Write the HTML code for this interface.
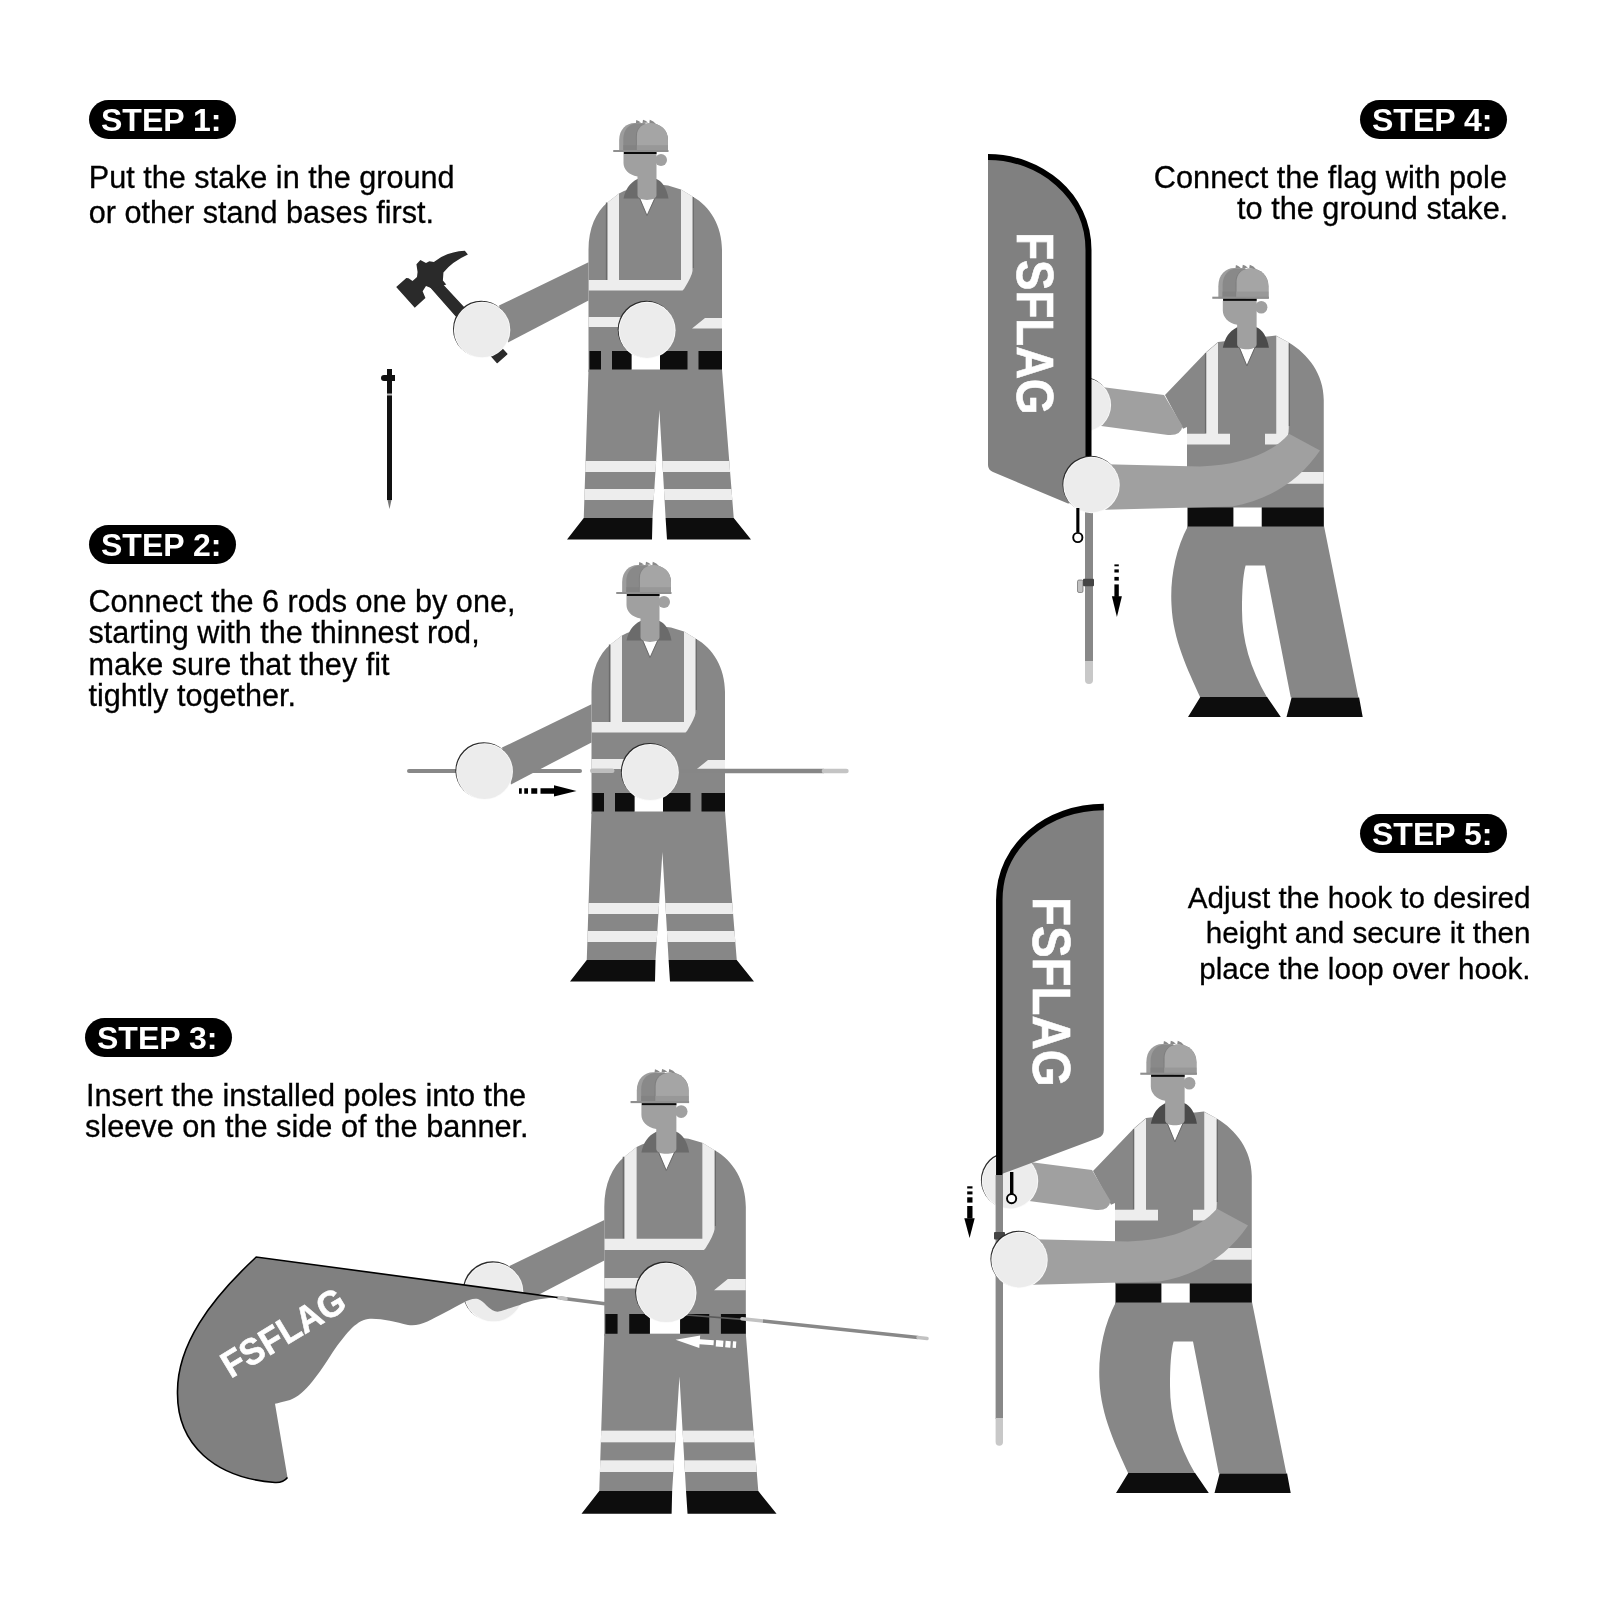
<!DOCTYPE html>
<html><head><meta charset="utf-8">
<style>
html,body{margin:0;padding:0;background:#fff;width:1600px;height:1600px;overflow:hidden}
svg{display:block;filter:grayscale(1)}
.t{font-family:"Liberation Sans",sans-serif;fill:#000;stroke:#000;stroke-width:0.3px}
.lb{font-family:"Liberation Sans",sans-serif;font-weight:bold;fill:#fff;font-size:32px}
.fl{font-family:"Liberation Sans",sans-serif;font-weight:bold;fill:#fff;stroke:#fff;stroke-width:0.6px}
</style></head>
<body>
<svg width="1600" height="1600" viewBox="0 0 1600 1600">
<defs>
  <!-- HEAD: local origin = top-left of face (below black band) -->
  <g id="head">
    <path d="M0,44.5 C2,35 6,29 14,25 H33 C38,27 43,33 45,44.5 Z" style="fill:var(--collar,#6b6b6b)"/>
    <path d="M16.5,44.5 H31 L23.5,61.5 Z" fill="#fff"/>
    <path d="M16.3,44.5 L23.5,61.5 L31.2,44.5" fill="none" stroke="#5a5a5a" stroke-width="0.8"/>
    <circle cx="37.5" cy="6" r="6" fill="#a0a0a0"/>
    <path d="M0,0 H33 V41 C33,47.5 14,47.5 14,41 V22.5 C5,21 0,15 0,9 Z" fill="#a0a0a0"/>
    <!-- helmet -->
    <path d="M12.3,-30.5 L12.8,-34 Q15,-33.5 17.5,-31.5 Z M19,-31 L19.5,-34.2 Q22,-33.5 24.5,-31.5 Z M25.8,-31.3 L26.3,-34.2 Q30,-33.2 33,-29.5 Z" fill="#8a8a8a"/>
    <path d="M-4.35,-2.5 V-14 C-4.35,-25 3,-31 11,-31.1 H22 V-2.5 Z" fill="#9d9d9d"/>
    <path d="M-0.2,-2.5 V-15 C-0.2,-24 5,-29.6 12,-30.5 H22 V-2.5 Z" fill="#898989"/>
    <rect x="-0.2" y="-8.8" width="14" height="6.3" fill="#838383"/>
    <path d="M12.4,-2.5 V-18 C12.4,-26 18.5,-30.8 26.5,-30.8 C37,-30.8 44.5,-24 44.5,-14 V-2.5 Z" fill="#7f7f7f"/>
    <path d="M13.4,-2.5 V-18 C13.4,-26 19,-30.7 27,-30.7 C37,-30.7 44.5,-24 44.5,-14 V-2.5 Z" fill="#a5a5a5"/>
    <rect x="13.4" y="-8.8" width="31.1" height="6.3" fill="#989898"/>
    <rect x="-10.25" y="-4" width="55.25" height="2" fill="#8f8f8f"/>
    <rect x="0.25" y="-2" width="32.85" height="2" fill="#0a0a0a"/>
  </g>

  <!-- STANDING WORKER body (worker 1 absolute coords) -->
  <clipPath id="legclip"><path d="M588.5,369.5 L583.75,518 H652.5 L659.4,410 L665.6,518 H733.75 L722,369.5 Z"/></clipPath>
  <g id="sbody">
    <path d="M588.5,372 V250 C588.5,228 596,212 607.5,202.5 L619,193.5 L624,191 L646,183 L668,185.5 L681,189.5 L692.5,196.5 C710,206 722,226 722,250 V372 Z" fill="#878787"/>
    <path d="M588.5,369.5 L583.75,518 H652.5 L659.4,410 L665.6,518 H733.75 L722,369.5 Z" fill="#878787"/>
    <g clip-path="url(#legclip)" fill="#ededed">
      <rect x="570" y="461" width="180" height="11"/>
      <rect x="570" y="489" width="180" height="11"/>
    </g>
    <path d="M583.75,518 H652.5 L652,539.4 H567 Z M665.6,518 H733.75 L751,539.4 H667 Z" fill="#0d0d0d"/>
    <!-- straps -->
    <path d="M607.5,202.5 L619,193.5 V281 H607.5 Z" fill="#ededed"/>
    <path d="M606.5,202.5 V280 M693.2,197 V268" stroke="#6a6a6a" stroke-width="1.3" fill="none"/>
    <path d="M681,189.5 L692.5,196.5 V271 Q692,276 684,289 L682.5,290.5 H588.5 V280 H681 Z" fill="#ededed"/>
    <path d="M588.5,317 H650 V327 H588.5 Z M705,318 H722 V328.5 H692 Z" fill="#ededed"/>
    <!-- belt -->
    <rect x="631.5" y="351" width="28.5" height="18.5" fill="#fff"/>
    <path d="M589.5,351 H601 V369.5 H589.5 Z M612,351 H631.5 V369.5 H612 Z M660,351 H687.5 V369.5 H660 Z M698.5,351 H722 V369.5 H698.5 Z" fill="#0d0d0d"/>
    <use href="#head" transform="translate(623.5,154)"/>
  </g>
  <path id="sarm" d="M588.5,262.3 L499,305.6 L508,342.4 L588.5,300.4 Z" fill="#878787"/>
  <g id="hand">
    <circle cx="-0.9" cy="-1" r="28.2" fill="#2a2a2a"/>
    <circle cx="0" cy="0" r="28.2" fill="#fbfbfb"/>
    <circle cx="0" cy="0" r="27.4" fill="#ececec"/>
  </g>

  <!-- KNEELING/LUNGING WORKER (worker 4 absolute coords) -->
  <g id="kbody">
    <path d="M1187,530 V427 L1183,428.75 L1165,395 L1206.25,352 L1218,342 L1276,335.5 L1288.75,342.5 C1308,354 1323.75,374 1323.75,400 V530 Z" fill="#878787"/>
    <path d="M1188,526 C1175,550 1170,580 1171.5,605 C1173,640 1188,670 1200.3,697.5 H1267.1 C1250,668 1242,640 1242,610 C1242,590 1243,575 1245.6,565.4 H1265 L1290.8,697.5 H1358.4 L1324,526 Z" fill="#878787"/>
    <path d="M1200.3,697 H1267.1 L1280.8,717.1 H1188 Z M1291.6,697.5 H1359.1 L1362.7,717.1 H1286.5 Z" fill="#0d0d0d"/>
    <path d="M1206.25,352.5 L1218,342.5 V433.75 H1230 V444.4 H1187 V433.75 H1206.25 Z" fill="#ededed"/>
    <path d="M1276.25,336 L1288.75,342.5 V428 Q1288.75,444.4 1276,444.4 H1265 V433.75 H1276.25 Z" fill="#ededed"/>
    <path d="M1205.5,353 V433 M1289.4,343.5 V426" stroke="#6a6a6a" stroke-width="1.2" fill="none"/>
    <path d="M1280,471.9 H1323.75 V483.75 H1270 Z" fill="#ededed"/>
    <rect x="1233.3" y="507.5" width="28.5" height="19.1" fill="#fff"/>
    <path d="M1188,507.5 H1233.3 V526.6 H1188 Z M1261.8,507.5 H1323.75 V526.6 H1261.8 Z" fill="#0d0d0d"/>
    <use href="#head" transform="translate(1222.8,300.9) scale(1.025,1.055)" style="--collar:#4b4b4b"/>
  </g>
  <path id="karm1" d="M1090,385.5 L1164,395 L1182.5,426 Q1181,436 1168,435 L1090,424.5 Z" fill="#a0a0a0"/>
  <path id="karm2" d="M1095,464 L1200,466.5 C1240,465 1270,455 1289,433.8 L1320,450.6 C1300,480 1270,500 1232,506.5 L1095,510 Z" fill="#a0a0a0"/>
</defs>

<!-- ============ TEXT ============ -->
<rect x="89" y="100" width="147" height="39" rx="19.5" fill="#000"/>
<text class="lb" x="101" y="130.5">STEP 1:</text>
<text class="t" style="font-size:30.6px" transform="translate(88.8,187.75)">Put the stake in the ground</text>
<text class="t" style="font-size:30.6px" transform="translate(88.8,222.5)">or other stand bases first.</text>

<rect x="89" y="525" width="147" height="39" rx="19.5" fill="#000"/>
<text class="lb" x="101" y="555.5">STEP 2:</text>
<text class="t" style="font-size:30.6px" transform="translate(88.5,612)">Connect the 6 rods one by one,</text>
<text class="t" style="font-size:30.6px" transform="translate(88.5,643)">starting with the thinnest rod,</text>
<text class="t" style="font-size:30.6px" transform="translate(88.5,674.7)">make sure that they fit</text>
<text class="t" style="font-size:30.6px" transform="translate(88.5,706)">tightly together.</text>

<rect x="85" y="1018" width="147" height="39" rx="19.5" fill="#000"/>
<text class="lb" x="97" y="1048.5">STEP 3:</text>
<text class="t" style="font-size:30.7px" transform="translate(86,1106)">Insert the installed poles into the</text>
<text class="t" style="font-size:30.7px" transform="translate(85,1137)">sleeve on the side of the banner.</text>

<rect x="1360" y="100" width="147" height="39" rx="19.5" fill="#000"/>
<text class="lb" x="1372" y="130.5">STEP 4:</text>
<text class="t" style="font-size:30.7px" transform="translate(1507,187.5)" text-anchor="end">Connect the flag with pole</text>
<text class="t" style="font-size:30.7px" transform="translate(1508.3,218.75)" text-anchor="end">to the ground stake.</text>

<rect x="1360" y="814" width="147" height="39" rx="19.5" fill="#000"/>
<text class="lb" x="1372" y="844.5">STEP 5:</text>
<text class="t" style="font-size:29.65px" transform="translate(1530.5,908)" text-anchor="end">Adjust the hook to desired</text>
<text class="t" style="font-size:29.65px" transform="translate(1530.5,943.2)" text-anchor="end">height and secure it then</text>
<text class="t" style="font-size:29.65px" transform="translate(1530.5,979)" text-anchor="end">place the loop over hook.</text>

<!-- ============ STEP 1 ============ -->
<g id="step1">
  <use href="#sbody"/>
  <use href="#sarm"/>
  <!-- hammer handle -->
  <path d="M428.3,284.4 L435.7,277.6 L506.8,353.9 L497.2,362.6 Z" fill="#2a2a2a" stroke="#2a2a2a" stroke-width="1.4" stroke-linejoin="round"/>
  <!-- hammer head -->
  <g transform="translate(390 245) scale(0.05625)" fill="#2a2a2a">
    <path d="M110,745 L290,585 L330,590 L400,640 L480,570 L490,480 L470,340 L540,265 L640,320 L700,290 L780,300 Q1000,120 1330,100 L1385,170 Q1100,300 950,490 L940,630 L1000,700 L800,770 L740,770 L640,730 L580,820 L630,940 L440,1115 Z"/>
  </g>
  <use href="#hand" transform="translate(482.1,329.9)"/>
  <use href="#hand" transform="translate(647.1,330.3) scale(1.01)"/>
  <!-- stake -->
  <rect x="387" y="369" width="5" height="131" fill="#111"/>
  <path d="M381,378 Q381,375 384,375 H395 V381 H384 Q381,381 381,378 Z" fill="#111"/>
  <rect x="387" y="393.5" width="5" height="2" fill="#bbb"/>
  <path d="M387.5,500 H391.5 L389.5,509 Z" fill="#777"/>
</g>

<!-- ============ STEP 2 ============ -->
<g id="step2">
  <g transform="translate(3,442)"><use href="#sbody"/></g>
  <line x1="409" y1="771" x2="580" y2="771" stroke="#888" stroke-width="4" stroke-linecap="round"/>
  <line x1="592.2" y1="770.8" x2="612.3" y2="770.8" stroke="#bdbdbd" stroke-width="4.4" stroke-linecap="round"/>
  <line x1="680" y1="771" x2="824" y2="771" stroke="#868686" stroke-width="4.6"/>
  <line x1="824" y1="771" x2="846.4" y2="771" stroke="#c4c4c4" stroke-width="4.6" stroke-linecap="round"/>
  <g transform="translate(3,442)"><use href="#sarm"/></g>
  <use href="#hand" transform="translate(484.6,771.5) scale(1.005)"/>
  <use href="#hand" transform="translate(650.3,772.4) scale(1.01)"/>
  <!-- arrow -->
  <g fill="#000">
    <rect x="519" y="788.25" width="2.75" height="5.5"/>
    <rect x="524.25" y="788.25" width="3.75" height="5.5"/>
    <rect x="531.25" y="788.25" width="6" height="5.5"/>
    <rect x="540.5" y="788.25" width="14" height="5.5"/>
    <path d="M554,785.25 L576.5,790.9 L554,796.5 Z"/>
  </g>
</g>

<!-- ============ STEP 3 ============ -->
<g id="step3">
  <line x1="560" y1="1298" x2="605" y2="1303.8" stroke="#888" stroke-width="3.5"/>
  <line x1="558" y1="1297.7" x2="566" y2="1298.7" stroke="#c2c2c2" stroke-width="3.5" stroke-linecap="round"/>
  <g transform="translate(-19.5,942) scale(1.06)"><use href="#sbody"/></g>
  <line x1="680" y1="1314.5" x2="746" y2="1319.6" stroke="#5a5a5a" stroke-width="1.6"/>
  <line x1="742" y1="1318.8" x2="763" y2="1321" stroke="#c2c2c2" stroke-width="3.5" stroke-linecap="round"/>
  <line x1="763" y1="1321" x2="918" y2="1337.5" stroke="#888" stroke-width="3.5"/>
  <line x1="918" y1="1337.5" x2="927" y2="1338.5" stroke="#c2c2c2" stroke-width="3.5" stroke-linecap="round"/>
  <g transform="translate(-19.5,942) scale(1.06)"><use href="#sarm"/></g>
  <use href="#hand" transform="translate(493.5,1292.3) scale(1.06)"/>
  <use href="#hand" transform="translate(666.3,1292.8) scale(1.07)"/>
  <!-- white arrow -->
  <g fill="#fff" transform="rotate(4 700 1342)">
    <path d="M675.5,1341.5 L699.7,1335.5 V1339.3 H713.7 V1344.3 H699.7 V1348 Z"/>
    <rect x="716" y="1339" width="7.3" height="6.5"/>
    <rect x="725.5" y="1339" width="5.1" height="6.5"/>
    <rect x="732.9" y="1339" width="3.3" height="6.5"/>
  </g>
  <!-- flag -->
  <path d="M256.25,1257 L557.5,1297.5 C540,1298 525,1302 520,1305 C505,1309 500,1313 495,1311.25 C488,1309 485,1302 478,1299 C470,1297 460,1305 445,1312.5 C430,1320 420,1327 408,1325 C395,1322 380,1318 368,1319 C355,1321 345,1335 332.5,1352.5 C320,1372 305,1395 290,1400 C283,1402 278,1403 275,1403.75 L287.5,1477.5 Q283,1483 275,1482.5 C215,1478 177,1445 177.5,1392.5 C177,1345 210,1300 256.25,1257 Z" fill="#808080"/>
  <path d="M557.5,1297.5 L256.25,1257 C210,1300 177,1345 177.5,1392.5 C177,1445 215,1478 275,1482.5 Q283,1483 287.5,1477.5" fill="none" stroke="#000" stroke-width="1.6"/>
  <text class="fl" style="font-size:37px" transform="translate(230.8,1378.8) rotate(-31) scale(0.93,1)">FSFLAG</text>
</g>

<!-- ============ STEP 4 ============ -->
<g id="step4">
  <use href="#kbody"/>
  <use href="#karm1"/>
  <use href="#hand" transform="translate(1084,405) scale(0.96)"/>
  <path d="M988,157 C1040,157 1088.5,195 1088.5,250 V500 L1068,503.6 L993,472 Q988,470 988,465 Z" fill="#808080"/>
  <path d="M988,157 C1040,157 1088.5,195 1088.5,250 V460" fill="none" stroke="#000" stroke-width="6"/>
  <text class="fl" style="font-size:51.3px" transform="translate(1017.2,232.3) rotate(90) scale(0.888,1)">FSFLAG</text>
  <!-- pole below -->
  <rect x="1085" y="500" width="8" height="162" fill="#888"/>
  <path d="M1085,661 H1093 V680 A4,4 0 0 1 1085,680 Z" fill="#c8c8c8"/>
  <use href="#karm2"/>
  <use href="#hand" transform="translate(1091.5,485)"/>
  <!-- hook -->
  <rect x="1076.3" y="508" width="3.1" height="24.5" fill="#000"/>
  <circle cx="1077.8" cy="537.5" r="4.6" fill="#fff" stroke="#000" stroke-width="1.9"/>
  <!-- clip -->
  <rect x="1083" y="578.8" width="11" height="7.5" rx="1" fill="#444"/>
  <rect x="1077.5" y="580" width="5.5" height="12.5" rx="1.5" fill="#c0c0c0" stroke="#555" stroke-width="0.6"/>
  <!-- arrow down -->
  <g fill="#000">
    <rect x="1114.4" y="564.4" width="4.4" height="1.9"/>
    <rect x="1114.4" y="569.4" width="4.4" height="3.1"/>
    <rect x="1114.4" y="576.9" width="4.4" height="3.7"/>
    <rect x="1114.4" y="584.4" width="4.4" height="12.5"/>
    <path d="M1111.9,596.25 H1121.9 L1116.9,616.9 Z"/>
  </g>
</g>

<!-- ============ STEP 5 ============ -->
<g id="step5">
  <g transform="translate(-72,776)"><use href="#kbody"/></g>
  <g transform="translate(-72,775)">
    <use href="#karm1"/>
    <use href="#hand" transform="translate(1082,406)"/>
  </g>
  <path d="M1103.8,807 V1130 Q1103.8,1136 1098,1138 L1003,1173.5 L999.3,1175 V900 C999.3,845 1048,807 1103.8,807 Z" fill="#808080"/>
  <path d="M1103.8,807 C1048,807 999.3,845 999.3,900 V1175" fill="none" stroke="#000" stroke-width="6.5"/>
  <text class="fl" style="font-size:53.3px" transform="translate(1032.5,897) rotate(90) scale(0.89,1)">FSFLAG</text>
  <rect x="995.6" y="1175" width="7.4" height="244" fill="#888"/>
  <path d="M995.6,1418 H1003 V1442 A3.7,3.7 0 0 1 995.6,1442 Z" fill="#c8c8c8"/>
  <rect x="1010" y="1172" width="3.4" height="22" fill="#000"/>
  <circle cx="1011.6" cy="1198.6" r="4.6" fill="#fff" stroke="#000" stroke-width="1.9"/>
  <rect x="994" y="1232" width="11" height="7.5" rx="1" fill="#444"/>
  <g transform="translate(-72,775)">
    <use href="#karm2"/>
    <use href="#hand" transform="translate(1091.5,485)"/>
  </g>
  <g fill="#000">
    <rect x="967.2" y="1186.3" width="5.3" height="2.2"/>
    <rect x="967.2" y="1191.4" width="5.3" height="3"/>
    <rect x="967.2" y="1197.3" width="5.3" height="5.3"/>
    <rect x="967.2" y="1206" width="5.3" height="12.5"/>
    <path d="M964.3,1218.2 H974.7 L969.6,1238.1 Z"/>
  </g>
</g>
</svg>
</body></html>
